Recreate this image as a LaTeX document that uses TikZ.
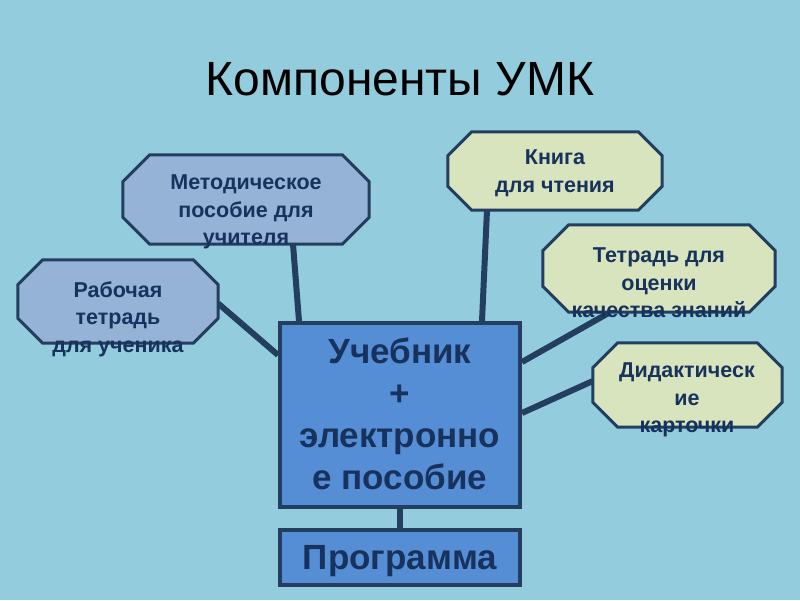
\documentclass[tikz,border=0pt]{standalone}
\usepackage{fontspec}
\setmainfont{Liberation Sans}
\definecolor{bg}{HTML}{93CDDD}
\definecolor{edge}{HTML}{233E5F}
\definecolor{ink}{HTML}{17325C}
\definecolor{mainfill}{HTML}{558ED5}
\definecolor{bluefill}{HTML}{95B3D7}
\definecolor{greenfill}{HTML}{D7E4BD}
\tikzset{
  area/.style={draw=none, rectangle, inner sep=0pt, minimum width=#1},
  btxt/.style={text=ink, font=\fontsize{21.5}{27.5}\selectfont\bfseries, align=center, inner sep=0pt},
  mtxt/.style={text=ink, font=\fontsize{35}{42}\selectfont\bfseries, align=center, inner sep=0pt},
  octline/.style={draw=edge, line width=3pt, line join=miter},
  conn/.style={draw=edge, line width=6pt},
  boxst/.style={draw=edge, line width=4pt, fill=mainfill, rectangle, inner sep=0pt},
}
\newcommand{\octagon}[3]{% name, fill, cut
  \path[octline, fill=#2]
    ([xshift=#3]#1.north west) -- ([xshift=-#3]#1.north east)
    -- ([yshift=-#3]#1.north east) -- ([yshift=#3]#1.south east)
    -- ([xshift=-#3]#1.south east) -- ([xshift=#3]#1.south west)
    -- ([yshift=#3]#1.south west) -- ([yshift=-#3]#1.north west) -- cycle;}
\begin{document}
\begin{tikzpicture}[x=1pt, y=-1pt]
\fill[bg] (0,0) rectangle (800,600);
\useasboundingbox (0,0) rectangle (800,600);

\node[text=black, font=\fontsize{48}{52}\selectfont, anchor=base, inner sep=0pt] (title) at (400,95) {Компоненты УМК};

% geometry holders
\node[area=246pt, minimum height=89pt] (met) at (246,199.5) {};
\node[area=200pt, minimum height=83pt] (rab) at (118,301.5) {};
\node[area=214pt, minimum height=78pt] (kn) at (555,171) {};
\node[area=232pt, minimum height=87pt] (tet) at (659,268.5) {};
\node[area=189pt, minimum height=84pt] (did) at (687.5,385) {};

\node[boxst, minimum width=240pt, minimum height=184pt] (main) at (400,415) {};
\node[boxst, minimum width=240pt, minimum height=55pt] (prog) at (400,557.5) {};

% connectors
\draw[conn] ([xshift=47pt]met.south) -- ([xshift=-101pt]main.north);
\draw[conn] ([xshift=-68pt]kn.south) -- ([xshift=82pt]main.north);
\draw[conn] ([yshift=-2pt]rab.east) -- ([yshift=60pt]main.west);
\draw[conn] ([yshift=53pt]main.east) -- ([xshift=-49pt]tet.south);
\draw[conn] ([yshift=2pt]main.east) -- ([yshift=4pt]did.west);
\draw[conn] (main.south) -- (prog.north);

\octagon{met}{bluefill}{27pt}
\octagon{rab}{bluefill}{25pt}
\octagon{kn}{greenfill}{24pt}
\octagon{tet}{greenfill}{26pt}
\octagon{did}{greenfill}{25pt}

% texts
\node[btxt] (metT) at (246,212) {Методическое\\пособие для\\учителя};
\node[btxt] (rabT) at (118,319) {Рабочая\\тетрадь\\для ученика};
\node[btxt] (knT) at (555,173) {Книга\\для чтения};
\node[btxt] (tetT) at (659,283) {Тетрадь для\\оценки\\качества знаний};
\node[btxt] (didT) at (687,400) {Дидактическ\\ие\\карточки};

\node[mtxt] (mainT) at (400,414) {Учебник\\+\\электронно\\е пособие};
\node[mtxt, anchor=base] (progT) at (400,569) {Программа};
\end{tikzpicture}
\end{document}
